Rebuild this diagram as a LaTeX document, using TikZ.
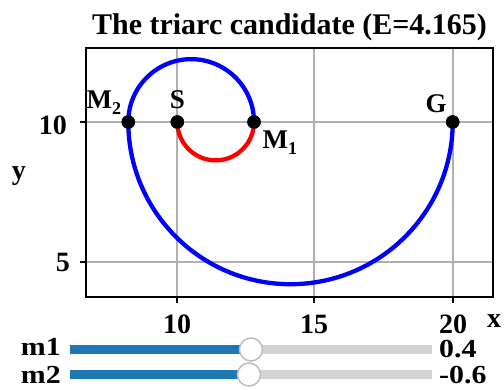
\documentclass[tikz,border=0pt]{standalone}
\usepackage{fontspec}
\setmainfont{Liberation Serif}
\definecolor{gridgray}{RGB}{176,176,176}
\definecolor{sliderblue}{RGB}{31,119,180}
\definecolor{trackgray}{RGB}{211,211,211}
\definecolor{knobgray}{RGB}{190,190,190}
\newcommand{\lowsub}[1]{\raisebox{-6.5pt}{\fontsize{18}{18}\selectfont #1}}
\begin{document}
\begin{tikzpicture}[x=1pt,y=-1pt,
  gridline/.style={draw=gridgray,line width=1.1pt},
  frame/.style={draw=black,line width=1.4pt},
  tickmark/.style={draw=black,line width=1.1pt},
  curve/.style={line width=4.3pt},
  ptdot/.style={circle,fill=black,inner sep=0pt,minimum size=13.5pt},
  ticklab/.style={font=\fontsize{28}{28}\selectfont\bfseries,inner sep=0pt},
  ptlab/.style={font=\fontsize{27}{27}\selectfont\bfseries,inner sep=0pt},
  sliderlab/.style={font=\fontsize{26}{26}\selectfont\bfseries,inner sep=0pt,xscale=1.15},
  track/.style={line width=9pt},
  knob/.style={circle,draw=knobgray,fill=white,line width=1.5pt,inner sep=0pt,minimum size=23pt}]
\useasboundingbox (0,0) rectangle (504,389);
% grid
\draw[gridline] (177,48) -- (177,297) (314,48) -- (314,297) (453,48) -- (453,297);
\draw[gridline] (86,122) -- (493,122) (86,262) -- (493,262);
% frame
\draw[frame] (86,48) rectangle (493,297);
% ticks
\draw[tickmark] (177,297) -- (177,303) (314,297) -- (314,303) (453,297) -- (453,303);
\draw[tickmark] (80,122) -- (86,122) (80,262) -- (86,262);
% tick labels
\node[ticklab,anchor=base] (tx10) at (177,333) {10};
\node[ticklab,anchor=base] (tx15) at (314,333) {15};
\node[ticklab,anchor=base] (tx20) at (453,333) {20};
\node[ticklab,anchor=base east] (ty10) at (67,134) {10};
\node[ticklab,anchor=base east] (ty5) at (70,271) {5};
\node[ticklab,anchor=base] (xlab) at (494,327) {x};
\node[ticklab,anchor=base] (ylab) at (19,179) {y};
% title
\node[font=\fontsize{30}{30}\selectfont\bfseries,anchor=base,inner sep=0pt] (title) at (289.5,34) {The triarc candidate (E=4.165)};
% points
\node[ptdot] (S) at (177.3,122) {};
\node[ptdot] (M1) at (254,122) {};
\node[ptdot] (M2) at (128.3,122) {};
\node[ptdot] (G) at (452.7,122) {};
% curves
\draw[curve,red] (S.center) arc[start angle=180,end angle=0,radius=38.35];
\draw[curve,blue] (M1.center) arc[start angle=0,end angle=-180,radius=62.85];
\draw[curve,blue] (M2.center) arc[start angle=180,end angle=0,radius=162.2];
\foreach \p in {S,M1,M2,G} \fill (\p) circle[radius=6.7];
% point labels
\node[ptlab,anchor=base] (Slab) at (177.5,108) {S};
\node[ptlab,anchor=base] (Glab) at (436,112) {G};
\node[ptlab,anchor=base west] (M2lab) at (86.5,108) {M\lowsub{2}};
\node[ptlab,anchor=base west] (M1lab) at (262.5,148) {M\lowsub{1}};
% sliders
\node[sliderlab,anchor=base east] (m1lab) at (61,355) {m1};
\node[sliderlab,anchor=base east] (m2lab) at (61,383) {m2};
\node[sliderlab,anchor=base west] (m1val) at (439,357) {0.4};
\node[sliderlab,anchor=base west] (m2val) at (439,383) {-0.6};
\coordinate (t1a) at (70,349.5);
\coordinate (t1b) at (432,349.5);
\coordinate (t2a) at (70,374.5);
\coordinate (t2b) at (432,374.5);
\coordinate (k1) at (251,349.5);
\coordinate (k2) at (249,374.5);
\draw[track,trackgray] (t1a) -- (t1b);
\draw[track,trackgray] (t2a) -- (t2b);
\draw[track,sliderblue] (t1a) -- (k1);
\draw[track,sliderblue] (t2a) -- (k2);
\node[knob] (knob1) at (k1) {};
\node[knob] (knob2) at (k2) {};
\end{tikzpicture}
\end{document}
